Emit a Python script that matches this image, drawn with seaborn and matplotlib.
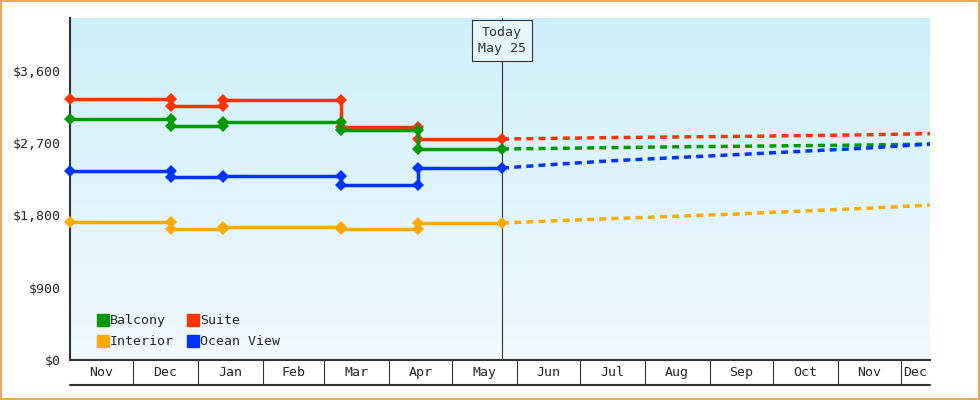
import numpy as np
import pandas as pd
import matplotlib
matplotlib.use("Agg")
import matplotlib.pyplot as plt
import seaborn as sns

sns.set_style("white")
plt.rcParams["font.family"] = ["DejaVu Sans Mono"]

# price change dates (history) and prices before/after each change
CHANGE_DATES = ["2023-11-01", "2023-12-19", "2024-01-13", "2024-03-09", "2024-04-15"]
TODAY = "2024-05-25"
HIST = {
    "Suite":      [3250, 3163, 3238, 2902, 2752],
    "Balcony":    [3001, 2914, 2964, 2864, 2628],
    "Ocean View": [2354, 2279, 2291, 2179, 2391],
    "Interior":   [1719, 1631, 1656, 1631, 1706],
}
FC_DATES = ["2024-05-25", "2024-06-15", "2024-07-15", "2024-08-15", "2024-09-15",
            "2024-10-15", "2024-11-15", "2024-12-15"]
FORECAST = {
    "Suite":      [2752, 2760, 2770, 2778, 2785, 2795, 2805, 2820],
    "Balcony":    [2628, 2635, 2645, 2655, 2662, 2670, 2678, 2690],
    "Ocean View": [2391, 2430, 2480, 2520, 2560, 2600, 2640, 2690],
    "Interior":   [1706, 1730, 1760, 1790, 1820, 1855, 1890, 1930],
}
COLORS = {"Balcony": "#009900", "Suite": "#ff3300", "Interior": "#ffaa00", "Ocean View": "#0033ff"}
MONTHS = ["Nov", "Dec", "Jan", "Feb", "Mar", "Apr", "May", "Jun", "Jul", "Aug",
          "Sep", "Oct", "Nov", "Dec"]
MONTH_STARTS = pd.date_range("2023-11-01", periods=14, freq="MS")
X0, X1 = pd.Timestamp("2023-11-01"), pd.Timestamp("2024-12-15")

fig = plt.figure(figsize=(9.8, 4), dpi=100)
fig.patch.set_facecolor("white")
fig.patches.append(plt.Rectangle((0.001, 0.002), 0.998, 0.996, transform=fig.transFigure,
                                 fill=False, edgecolor="#e8a85c", lw=1.5))
ax = fig.add_axes([70 / 980, 40 / 400, 860 / 980, 342 / 400])

grad = np.linspace(0, 1, 256).reshape(-1, 1)
cmap = matplotlib.colors.LinearSegmentedColormap.from_list("bg", ["#cdeffb", "#f2fafe"])
ax.imshow(grad, aspect="auto", cmap=cmap, extent=[0, 1, 0, 1], transform=ax.transAxes, zorder=0)

dates = pd.to_datetime(CHANGE_DATES)
for name, vals in HIST.items():
    xs, ys = [dates[0]], [vals[0]]
    for i in range(1, len(vals)):
        xs += [dates[i], dates[i]]
        ys += [vals[i - 1], vals[i]]
    xs.append(pd.Timestamp(TODAY)); ys.append(vals[-1])
    sns.lineplot(x=xs, y=ys, estimator=None, sort=False, color=COLORS[name], lw=2.5,
                 marker="D", markersize=6, markeredgewidth=0, ax=ax, zorder=3, clip_on=False)
    sns.lineplot(x=pd.to_datetime(FC_DATES), y=FORECAST[name], estimator=None, sort=False,
                 color=COLORS[name], lw=2.5, ls=(0, (2, 1.5)), ax=ax, zorder=3)

ax.axvline(pd.Timestamp(TODAY), color="#333333", lw=0.8, zorder=2)
ax.text(pd.Timestamp(TODAY), 3985, "Today\nMay 25", ha="center", va="center", fontsize=9.5,
        color="#333333", linespacing=1.3,
        bbox=dict(boxstyle="square,pad=0.45", fc="#e6f7fc", ec="#333333", lw=0.8), zorder=5)

ax.set_xlim(X0, X1)
ax.set_ylim(0, 4260)
ax.set_xlabel("")
ax.set_ylabel("")
ax.set_yticks([0, 900, 1800, 2700, 3600])
ax.set_yticklabels(["$0", "$900", "$1,800", "$2,700", "$3,600"], fontsize=9.5)
ax.tick_params(axis="y", length=5, width=1.5, color="#333333", direction="out", pad=2)
ax.tick_params(axis="x", bottom=False, labelbottom=False)
for s in ["top", "right"]:
    ax.spines[s].set_visible(False)
for s in ["left", "bottom"]:
    ax.spines[s].set_color("#333333")
    ax.spines[s].set_linewidth(1.5)

trans = matplotlib.transforms.blended_transform_factory(ax.transData, ax.transAxes)
bounds = list(MONTH_STARTS) + [X1]
for i, m in enumerate(MONTHS):
    a, b = bounds[i], bounds[i + 1]
    if i > 0:
        ax.plot([a, a], [0, -0.073], transform=trans, color="#333333", lw=0.8, clip_on=False)
    ax.text(a + (b - a) / 2, -0.037, m, transform=trans, ha="center", va="center", fontsize=9.5)
ax.plot([X0, X1], [-0.073, -0.073], transform=trans, color="#333333", lw=1.5, clip_on=False)

handles = [plt.Line2D([], [], ls="", marker="s", markersize=8, color=COLORS[n])
           for n in ["Balcony", "Interior", "Suite", "Ocean View"]]
ax.legend(handles, ["Balcony", "Interior", "Suite", "Ocean View"], ncol=2, loc="lower left",
          bbox_to_anchor=(0.02, 0.0), frameon=False, fontsize=9.5, handlelength=0.6,
          handletextpad=0.2, columnspacing=1.2, labelspacing=0.6)

fig.savefig("out.png", dpi=100)
